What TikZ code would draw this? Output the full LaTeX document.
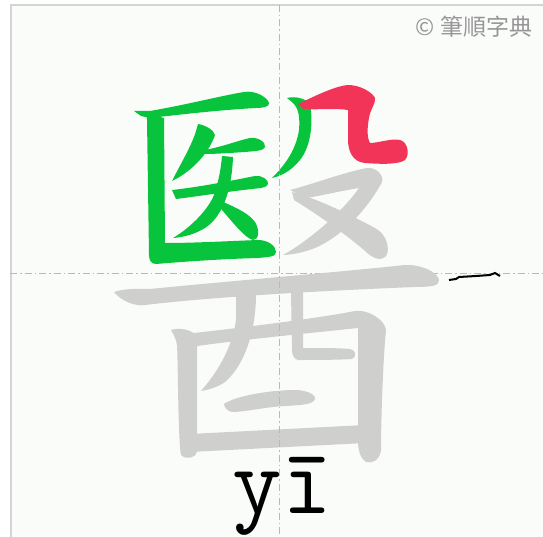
\documentclass[tikz,border=0pt]{standalone}
\usepackage{fontspec}
\usepackage{tikz}
\newfontfamily\cjkfont{Noto Sans CJK TC}
\definecolor{paper_bg}{RGB}{250,252,250}
\definecolor{frame_gray}{RGB}{212,212,212}
\definecolor{guide_gray}{RGB}{185,185,185}
\definecolor{done_green}{RGB}{8,196,60}
\definecolor{now_red}{RGB}{242,52,88}
\definecolor{todo_gray}{RGB}{207,208,206}
\definecolor{brand_gray}{RGB}{150,150,150}
\tikzset{
	stroke_done/.style = {
		fill=done_green
	},
	stroke_now/.style = {
		fill=now_red
	},
	stroke_todo/.style = {
		fill=todo_gray
	},
	frame_line/.style = {
		draw=frame_gray,
		line width=2pt
	},
	guide_line/.style = {
		draw=guide_gray,
		line width=0.9pt,
		dash pattern=on 7pt off 3pt on 1.5pt off 3pt
	},
	brand_text/.style = {
		font=\cjkfont\fontsize{23}{23}\selectfont,
		text=brand_gray,
		inner sep=0pt
	},
	pinyin_text/.style = {
		font=\ttfamily\fontsize{96}{96}\selectfont,
		text=black,
		inner sep=0pt,
		anchor=base
	},
}
\begin{document}
\begin{tikzpicture}[x=1pt,y=-1pt]
\useasboundingbox (0,0) rectangle (543,537);
\fill[white] (0,0) rectangle (543,537);
\fill[paper_bg] (10,5) rectangle (543,537);
\draw[frame_line] (10.5,537) -- (10.5,5) -- (543,5);
\draw[guide_line] (10,273) -- (543,273);
% strokes still to write
\fill[stroke_todo] (292,192) .. controls (315,198) and (345,212) .. (375,228) .. controls (388,235) and (390,250) .. (386,256) .. controls (380,262) and (372,258) .. (364,250) .. controls (345,234) and (320,216) .. (294,200) -- cycle;
\fill[stroke_todo] (290,190) .. controls (310,185) and (345,172) .. (367,168) .. controls (376,167) and (384,175) .. (382,182) .. controls (370,205) and (345,235) .. (315,248) .. controls (305,252) and (292,255) .. (283,255) .. controls (305,243) and (340,215) .. (359,188) .. controls (345,190) and (320,196) .. (306,198) -- cycle;
\fill[stroke_todo] (114,292) .. controls (125,288) and (140,289) .. (150,289) .. controls (220,282) and (340,272) .. (405,265) .. controls (420,264) and (438,272) .. (439,280) .. controls (440,286) and (430,287) .. (415,287) .. controls (340,290) and (220,296) .. (145,305) .. controls (135,307) and (120,300) .. (114,292) -- cycle;
\fill[stroke_todo] (171,330) .. controls (180,327) and (192,330) .. (197,336) -- (197,452) .. controls (196,458) and (186,460) .. (181,455) .. controls (178,440) and (178,360) .. (177,345) .. controls (176,338) and (173,334) .. (171,330) -- cycle;
\fill[stroke_todo] (185,334) .. controls (240,328) and (320,318) .. (355,311) .. controls (368,309) and (385,320) .. (386,330) .. controls (383,360) and (381,420) .. (381,450) .. controls (380,460) and (372,464) .. (366,462) .. controls (360,458) and (358,450) .. (358,440) -- (358,328) .. controls (310,333) and (240,340) .. (197,346) -- cycle;
\fill[stroke_todo] (236,296) -- (256,294) .. controls (256,330) and (245,365) .. (225,382) .. controls (218,387) and (208,390) .. (201,391) .. controls (215,375) and (232,350) .. (236,320) -- cycle;
\fill[stroke_todo] (291,292) -- (303,292) -- (303,348) .. controls (320,348) and (340,348) .. (350,349) .. controls (356,350) and (357,357) .. (352,359) .. controls (335,360) and (315,360) .. (298,360) .. controls (294,359) and (292,355) .. (292,350) -- cycle;
\fill[stroke_todo] (224,404) .. controls (235,396) and (270,390) .. (295,390) .. controls (305,390) and (316,394) .. (315,399) .. controls (313,405) and (300,405) .. (285,406) .. controls (265,407) and (245,412) .. (232,412) .. controls (227,411) and (224,407) .. (224,404) -- cycle;
\fill[stroke_todo] (190,434) -- (365,425) -- (365,443) -- (190,452) -- cycle;
% strokes written
\fill[stroke_done] (134,111) -- (150,111) .. controls (190,104) and (220,96) .. (244,92) .. controls (256,90) and (268,98) .. (269,103) .. controls (270,107) and (262,108) .. (256,108) .. controls (220,110) and (185,114) .. (150,118) -- (141,116) -- cycle;
\fill[stroke_done] (146,113) -- (164,118) -- (165,243) .. controls (195,243) and (230,241) .. (258,240) .. controls (268,240) and (276,246) .. (276,252) .. controls (276,257) and (268,257) .. (258,258) .. controls (220,259) and (180,262) .. (156,264) .. controls (151,264) and (149,260) .. (149,255) -- (147,120) -- cycle;
\fill[stroke_done] (198,124) .. controls (205,125) and (214,130) .. (215,135) .. controls (210,150) and (195,170) .. (172,181) .. controls (180,165) and (192,145) .. (196,131) -- cycle;
\fill[stroke_done] (205,150) .. controls (225,146) and (240,140) .. (250,138) .. controls (258,137) and (266,142) .. (265,147) .. controls (264,151) and (255,151) .. (245,152) .. controls (230,153) and (215,154) .. (205,154) -- cycle;
\fill[stroke_done] (172,190) .. controls (200,187) and (235,180) .. (255,176) .. controls (262,175) and (269,180) .. (268,184) .. controls (267,188) and (260,188) .. (252,189) .. controls (225,192) and (200,196) .. (176,199) -- cycle;
\fill[stroke_done] (222,156) -- (233,157) .. controls (232,185) and (225,215) .. (205,228) .. controls (195,234) and (185,237) .. (173,238) .. controls (190,228) and (208,210) .. (214,195) .. controls (219,180) and (221,168) .. (222,156) -- cycle;
\fill[stroke_done] (216,199) .. controls (230,205) and (248,212) .. (255,222) .. controls (260,230) and (259,240) .. (253,240) .. controls (245,238) and (235,225) .. (216,203) -- cycle;
\fill[stroke_done] (287,98) .. controls (295,96) and (305,98) .. (310,104) .. controls (313,120) and (312,145) .. (300,160) .. controls (292,170) and (282,176) .. (272,178) .. controls (285,165) and (296,150) .. (299,130) .. controls (300,118) and (299,108) .. (292,102) -- cycle;
% stroke being written
\fill[stroke_now] (298,104) .. controls (315,96) and (335,86) .. (348,85) .. controls (360,85) and (372,92) .. (375,98) .. controls (376,103) and (370,110) .. (369,118) .. controls (367,128) and (367,138) .. (370,143) .. controls (378,143) and (392,138) .. (400,140) .. controls (408,142) and (410,155) .. (405,160) .. controls (398,165) and (378,164) .. (365,163) .. controls (352,162) and (348,150) .. (348,140) -- (348,110) .. controls (335,108) and (315,110) .. (303,109) -- cycle;
\draw[guide_line] (279,5) -- (279,537);
\draw[black, line width=2pt] (449,280) -- (456,279) -- (459,277) -- (476,276) -- (490,275) -- (495,273) -- (500,276);
\node [brand_text] (brand) at (474,27) {© 筆順字典};
\node [pinyin_text] (pinyin) at (282,513) {yī};
\end{tikzpicture}
\end{document}
